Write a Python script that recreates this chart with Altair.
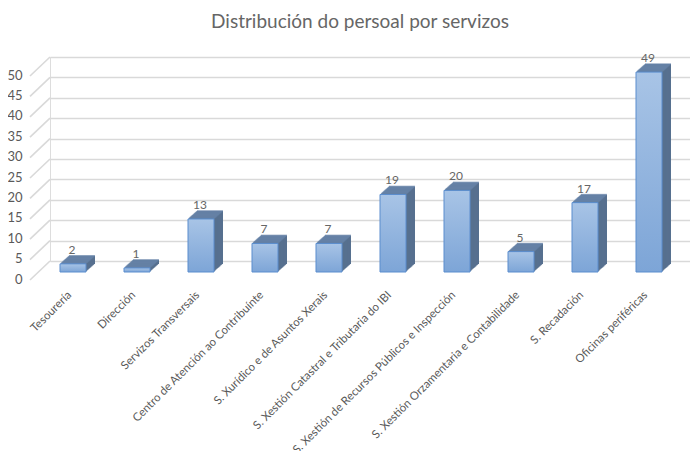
import altair as alt
import pandas as pd

categories = [
    "Tesourería",
    "Dirección",
    "Servizos Transversais",
    "Centro de Atención ao Contribuínte",
    "S. Xurídico e de Asuntos Xerais",
    "S. Xestión Catastral e Tributaria do IBI",
    "S. Xestión de Recursos Públicos e Inspección",
    "S. Xestión Orzamentaria e Contabilidade",
    "S. Recadación",
    "Oficinas periféricas",
]
values = [2, 1, 13, 7, 7, 19, 20, 5, 17, 49]
y_ticks = [0, 5, 10, 15, 20, 25, 30, 35, 40, 45, 50]

df = pd.DataFrame({"servizo": categories, "persoal": values})
ticks_df = pd.DataFrame({"persoal": y_ticks})

FONT = "Lato"
GREY = "#595959"
W, H = 640, 204
DX, DY = 9, 8          # depth of the 3D extrusion
FRONT_X, FRONT_Y = -9, 11

x_enc = alt.X(
    "servizo:N",
    sort=categories,
    scale=alt.Scale(paddingInner=0, paddingOuter=0),
    axis=alt.Axis(
        title=None, labelAngle=315, labelAlign="right", labelBaseline="middle",
        labelOffset=-12, labelPadding=32, ticks=False, domain=False,
        labelFont=FONT, labelFontSize=11.5, labelColor=GREY, labelLimit=400,
    ),
)
y_scale = alt.Scale(domain=[0, 50], nice=False)
y_axis = alt.Axis(
    title=None, values=y_ticks, grid=True, gridColor="#d9d9d9", gridWidth=1.6,
    ticks=False, domain=False, labelPadding=28, labelOffset=18,
    labelFont=FONT, labelFontSize=13, labelColor=GREY,
)
y_enc = alt.Y("persoal:Q", scale=y_scale, axis=y_axis)

base = alt.Chart(df)

# diagonal floor/wall lines at the left
diag = alt.Chart(ticks_df).mark_rule(color="#d9d9d9", strokeWidth=1.6, yOffset=19, y2Offset=0).encode(
    x=alt.value(-20), x2=alt.value(0),
    y=y_enc, y2="persoal:Q",
)

layers = [diag]
SIDE = "#57708f"
TOP = "#6885aa"
steps = 10
for i in range(steps, 0, -1):
    fx = FRONT_X + DX * i / steps
    fy = FRONT_Y - DY * i / steps
    layers.append(
        base.mark_bar(size=26, color=SIDE, xOffset=fx, yOffset=fy, y2Offset=fy)
        .encode(x=x_enc, y=y_enc)
    )
    layers.append(
        base.mark_tick(size=26, thickness=1.6, color=TOP, xOffset=fx, yOffset=fy)
        .encode(x=x_enc, y=y_enc)
    )

grad = alt.Gradient(
    gradient="linear",
    stops=[alt.GradientStop(color="#a8c4e6", offset=0), alt.GradientStop(color="#7da5d7", offset=1)],
    x1=0, x2=0, y1=0, y2=1,
)
front = base.mark_bar(
    size=26, color=grad, stroke="#5a8dce", strokeWidth=1,
    xOffset=FRONT_X, yOffset=FRONT_Y, y2Offset=FRONT_Y,
).encode(x=x_enc, y=y_enc)
layers.append(front)

labels = base.mark_text(
    font=FONT, fontSize=12, color="#666666", baseline="alphabetic",
    xOffset=-10, yOffset=FRONT_Y - DY - 2,
).encode(x=x_enc, y=y_enc, text="persoal:Q")
layers.append(labels)

chart = alt.layer(*layers).properties(
    width=W, height=H,
    title=alt.TitleParams(
        "Distribución do persoal por servizos", font=FONT, fontSize=19,
        fontWeight="normal", color="#666666", anchor="middle", dx=-10, offset=20,
    ),
    autosize=alt.AutoSizeParams(type="none"),
    padding={"left": 42, "top": 49, "right": 0, "bottom": 190},
).configure_view(stroke=None).configure(background="white")

chart.save("out.html", embed_options={"renderer": "svg", "actions": False})
